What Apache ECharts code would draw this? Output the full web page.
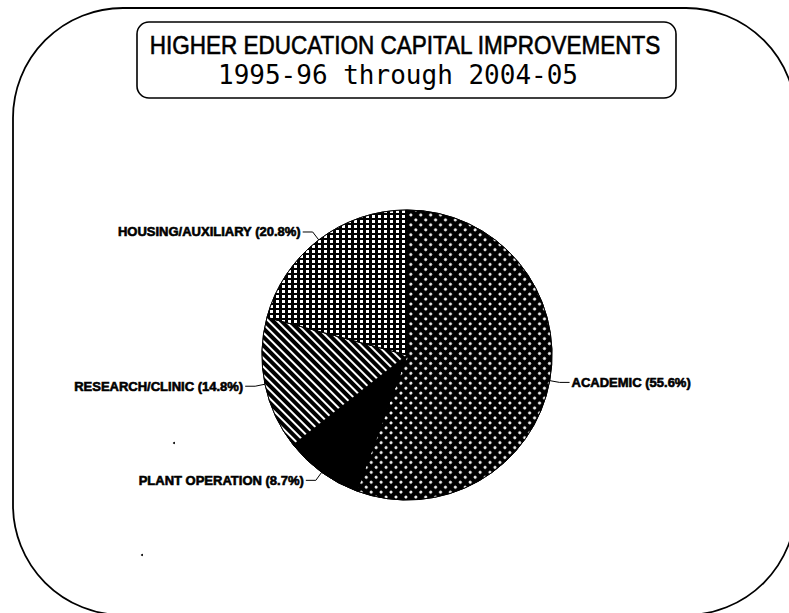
<!DOCTYPE html>
<html><head><meta charset="utf-8">
<script src="https://cdn.jsdelivr.net/npm/echarts@6/dist/echarts.min.js"></script>
<style>html,body{margin:0;padding:0;background:#fff}#c{width:789px;height:613px}</style>
</head><body><div id="c"></div>
<script>
const titleLines = ['HIGHER EDUCATION CAPITAL IMPROVEMENTS', '1995-96 through 2004-05'];
const categories = ['ACADEMIC', 'PLANT OPERATION', 'RESEARCH/CLINIC', 'HOUSING/AUXILIARY'];
const shares = [55.6, 8.7, 14.8, 20.8];

const decals = [
  { symbol: 'circle', color: '#fff', dashArrayX: [2.2, 3.8], dashArrayY: [2.2, 3.8], rotation: Math.PI / 4, symbolSize: 1 },
  { symbol: 'rect', color: '#000', dashArrayX: [1, 0], dashArrayY: [1, 0], symbolSize: 1 },
  { symbol: 'rect', color: '#fff', dashArrayX: [1, 0], dashArrayY: [2, 4], rotation: Math.PI / 4, symbolSize: 1 },
  { symbol: 'rect', color: '#fff', dashArrayX: [2.6, 2.4], dashArrayY: [3, 2], symbolSize: 1 }
];

const chart = echarts.init(document.getElementById('c'), null, { renderer: 'svg' });
chart.setOption({
  animation: false,
  backgroundColor: '#fff',
  graphic: [
    { type: 'rect', shape: { x: 13, y: 8, width: 783, height: 607, r: 110 },
      style: { fill: 'none', stroke: '#000', lineWidth: 1.8 }, silent: true },
    { type: 'rect', shape: { x: 137, y: 22, width: 539, height: 76, r: 12 },
      style: { fill: 'none', stroke: '#000', lineWidth: 1.6 }, silent: true },
    { type: 'text', x: 405, y: 45, scaleX: 0.9,
      style: { text: titleLines[0], font: '25px "Liberation Sans", Arial, sans-serif', fill: '#000',
               stroke: '#000', lineWidth: 0.6,
               textAlign: 'center', textVerticalAlign: 'middle' } },
    { type: 'text', x: 398, y: 75,
      style: { text: titleLines[1], font: '26px "DejaVu Sans Mono", monospace', fill: '#000',
               textAlign: 'center', textVerticalAlign: 'middle' } },
    { type: 'circle', shape: { cx: 174, cy: 443, r: 1 }, style: { fill: '#000' }, silent: true },
    { type: 'circle', shape: { cx: 142, cy: 555, r: 1 }, style: { fill: '#000' }, silent: true }
  ],
  series: [{
    type: 'pie',
    center: [407, 355],
    radius: 145,
    startAngle: 90,
    clockwise: true,
    silent: true,
    data: categories.map((name, i) => ({
      name, value: shares[i],
      itemStyle: { color: '#000', borderColor: '#000', borderWidth: 1, decal: decals[i] }
    })),
    label: {
      show: true, position: 'outside', color: '#000',
      fontFamily: '"Liberation Sans", Arial, sans-serif', fontWeight: 'bold', fontSize: 13,
      textBorderColor: '#000', textBorderWidth: 0.6,
      distanceToLabelLine: 2,
      formatter: p => p.name + ' (' + p.value + '%)'
    },
    labelLine: { show: true, length: 10, length2: 10, lineStyle: { color: '#000', width: 1 } }
  }]
});
</script></body></html>
